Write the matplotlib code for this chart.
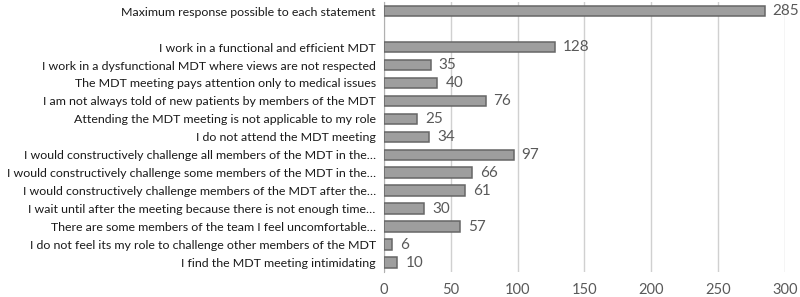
import numpy as np
import matplotlib.pyplot as plt

plt.rcParams['font.family'] = ['Lato', 'DejaVu Sans']

labels = [
    "Maximum response possible to each statement",
    "",
    "I work in a functional and efficient MDT",
    "I work in a dysfunctional MDT where views are not respected",
    "The MDT meeting pays attention only to medical issues",
    "I am not always told of new patients by members of the MDT",
    "Attending the MDT meeting is not applicable to my role",
    "I do not attend the MDT meeting",
    "I would constructively challenge all members of the MDT in the\u2026",
    "I would constructively challenge some members of the MDT in the\u2026",
    "I would constructively challenge members of the MDT after the\u2026",
    "I wait until after the meeting because there is not enough time\u2026",
    "There are some members of the team I feel uncomfortable\u2026",
    "I do not feel its my role to challenge other members of the MDT",
    "I find the MDT meeting intimidating",
]
values = np.array([285, np.nan, 128, 35, 40, 76, 25, 34, 97, 66, 61, 30, 57, 6, 10])

fig = plt.figure(figsize=(8, 2.97), dpi=100)
ax = fig.add_axes([0.48, 0.085, 0.501, 0.908])

y = np.arange(len(labels))
ok = ~np.isnan(values)
ax.barh(y[ok], values[ok], height=0.6, color='#9e9e9e',
        edgecolor='#666666', linewidth=1.1, zorder=3)
for yi, v in zip(y[ok], values[ok]):
    ax.text(v + 6, yi, f"{int(v)}", va='center', ha='left',
            fontsize=11, color='#595959')

ax.set_yticks(y)
ax.set_yticklabels(labels, fontsize=8.9, color='#1a1a1a')
ax.set_ylim(len(labels) - 0.5, -0.5)
ax.set_xlim(0, 300)
ax.set_xticks(np.arange(0, 301, 50))
ax.tick_params(axis='x', labelsize=10.5, colors='#595959', length=0, pad=8)
ax.tick_params(axis='y', length=0, pad=6)
ax.grid(axis='x', color='#d0d0d0', linewidth=1.0, zorder=0)
for s in ['top', 'right', 'bottom']:
    ax.spines[s].set_visible(False)
ax.spines['left'].set_color('#b0b0b0')

fig.savefig('out.png', dpi=100)
